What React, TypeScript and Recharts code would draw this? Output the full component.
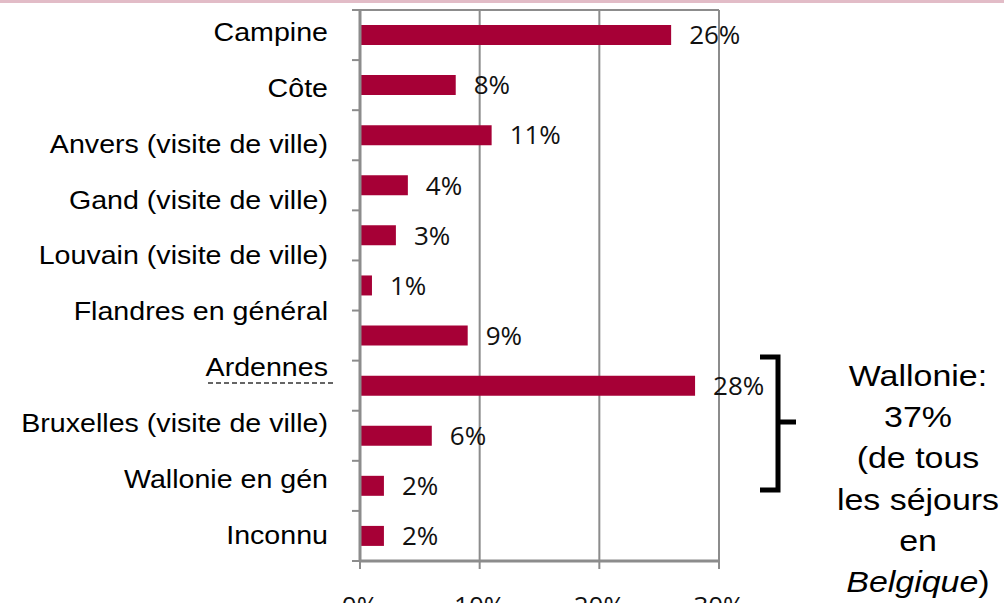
import React from 'react';
import {
  BarChart,
  Bar,
  XAxis,
  YAxis,
  CartesianGrid,
  LabelList,
} from 'recharts';

// ---- data ----
const BAR_IDS = ['b1', 'b2', 'b3', 'b4', 'b5', 'b6', 'b7', 'b8', 'b9', 'b10', 'b11'];
const BAR_VALUES = [26, 8, 11, 4, 3, 1, 9, 28, 6, 2, 2];
const CATEGORY_LABELS = [
  'Campine',
  'Côte',
  'Anvers (visite de ville)',
  'Gand (visite de ville)',
  'Louvain (visite de ville)',
  'Flandres en général',
  'Ardennes',
  'Bruxelles (visite de ville)',
  'Wallonie en gén',
  'Inconnu',
];
const X_TICKS = [0, 10, 20, 30];
const NOTE_LINES = ['Wallonie:', '37%', '(de tous', 'les séjours', 'en'];
const NOTE_LAST_ITALIC = 'Belgique';
const NOTE_LAST_TAIL = ')';

const data = BAR_IDS.map((id, i) => ({ name: id, value: BAR_VALUES[i] }));

const BAR_COLOR = '#a60036';
const GRID = '#8c8c8c';
const VALUE_FONT = '"Open Sans", "DejaVu Sans", sans-serif';
const LABEL_FONT = '"Liberation Sans", Arial, sans-serif';
// the category labels are laid out in their own (misaligned) slots
const LABEL_SLOTS = 9.87;
const LABEL_START = 0.39;

const CatTick = (props: any) => {
  const { x, y, index, height, visibleTicksCount } = props;
  const n = visibleTicksCount || BAR_IDS.length;
  const h = typeof height === 'number' && height > 0 ? height : 551;
  const band = h / n;
  const top = y - (index + 0.5) * band;
  const label = CATEGORY_LABELS[index];
  const ly = top + (index + LABEL_START) * (h / LABEL_SLOTS);
  const tx = x - 32;
  return (
    <g>
      <line x1={x - 8} x2={x} y1={y - band / 2} y2={y - band / 2} stroke={GRID} strokeWidth={2} />
      {index === n - 1 && (
        <line x1={x - 8} x2={x} y1={y + band / 2} y2={y + band / 2} stroke={GRID} strokeWidth={2} />
      )}
      {label && (
        <text
          x={tx}
          y={ly}
          dy="0.36em"
          textAnchor="end"
          fontFamily={LABEL_FONT}
          fontSize={26}
          fill="#000"
          transform={`translate(${tx} ${ly}) scale(1.1 1) translate(${-tx} ${-ly})`}
        >
          {label}
        </text>
      )}
    </g>
  );
};

export default function App() {
  const noteX = 918;
  const noteY0 = 386;
  const noteStep = 41.2;
  return (
    <div style={{ position: 'absolute', left: 0, top: 0, width: 1004, height: 603, background: '#fff', overflow: 'hidden' }}>
      <BarChart
        width={1004}
        height={603}
        data={data}
        layout="vertical"
        margin={{ top: 9, right: 285, bottom: 0, left: 359 }}
      >
        <CartesianGrid horizontal={false} stroke={GRID} strokeWidth={2} xAxisId="x" yAxisId="cat" />
        <XAxis
          xAxisId="x"
          type="number"
          domain={[0, 30]}
          ticks={X_TICKS}
          interval={0}
          tickFormatter={(v: number) => `${v}%`}
          axisLine={{ stroke: GRID, strokeWidth: 3 }}
          tickLine={{ stroke: GRID, strokeWidth: 2 }}
          tickSize={8}
          tickMargin={28}
          height={42}
          tick={{ fontFamily: VALUE_FONT, fontSize: 26, fill: '#111' }}
        />
        <XAxis
          xAxisId="top"
          orientation="top"
          type="number"
          domain={[0, 30]}
          ticks={X_TICKS}
          allowDataOverflow
          height={1}
          tickLine={false}
          tick={false}
          axisLine={{ stroke: GRID, strokeWidth: 2 }}
        />
        <YAxis
          yAxisId="cat"
          type="category"
          dataKey="name"
          width={1}
          interval={0}
          tickSize={0}
          tickMargin={0}
          tickLine={false}
          axisLine={{ stroke: GRID, strokeWidth: 3 }}
          tick={<CatTick />}
        />
        <Bar
          dataKey="value"
          xAxisId="x"
          yAxisId="cat"
          fill={BAR_COLOR}
          barSize={20}
          isAnimationActive={false}
        >
          <LabelList
            dataKey="value"
            position="right"
            offset={18}
            formatter={(v: any) => `${v}%`}
            style={{ fontFamily: VALUE_FONT, fontSize: 26, fill: '#111' }}
          />
        </Bar>
      </BarChart>
      <svg
        width={1004}
        height={603}
        style={{ position: 'absolute', left: 0, top: 0, pointerEvents: 'none' }}
      >
        <rect x={0} y={0} width={1004} height={3} fill="#e2bcc7" />
        <line x1={208} y1={383} x2={334} y2={383} stroke="#333" strokeWidth={1.5} strokeDasharray="5 3" />
        <path
          d="M760 357 L778 357 L778 490 L760 490 M778 422 L796 422"
          fill="none"
          stroke="#000"
          strokeWidth={5}
        />
        <g
          fontFamily={LABEL_FONT}
          fontSize={29}
          fill="#000"
          textAnchor="middle"
          transform={`translate(${noteX} 0) scale(1.17 1) translate(${-noteX} 0)`}
        >
          {NOTE_LINES.map((t, i) => (
            <text key={t} x={noteX} y={noteY0 + i * noteStep}>
              {t}
            </text>
          ))}
          <text x={noteX} y={noteY0 + NOTE_LINES.length * noteStep}>
            <tspan fontStyle="italic">{NOTE_LAST_ITALIC}</tspan>
            <tspan>{NOTE_LAST_TAIL}</tspan>
          </text>
        </g>
      </svg>
    </div>
  );
}
